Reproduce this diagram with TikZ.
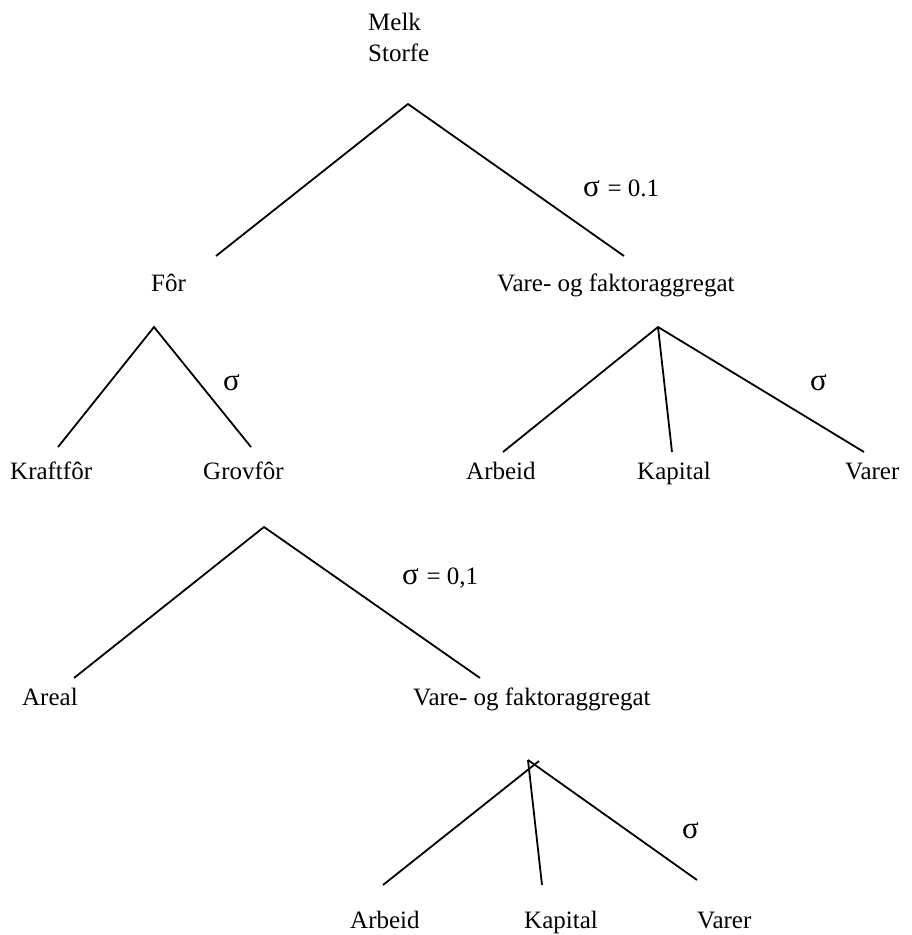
\documentclass[tikz,border=0pt]{standalone}
\usepackage{fontspec}
\setmainfont{Liberation Serif}
\begin{document}
\begin{tikzpicture}[x=1pt,y=-1pt,
  lbl/.style={anchor=base west, inner sep=0pt, font=\fontsize{25}{30}\selectfont},
  sig/.style={anchor=base west, inner sep=0pt, font=\fontsize{31}{34}\selectfont},
  branch/.style={line width=1.8pt, line cap=butt}]
\useasboundingbox (0,0) rectangle (912,935);

% top level: Melk / Storfe
\node[lbl] (melk) at (368,30) {Melk};
\node[lbl] (storfe) at (368,61) {Storfe};
\coordinate (t0) at (408,104);
\coordinate (t0l) at (216,256);
\coordinate (t0r) at (624,256);
\draw[branch] (t0l) -- (t0) -- (t0r);
\node[sig] (s0) at (583,196) {σ {\fontsize{25}{30}\selectfont = 0.1}};

\node[lbl] (for) at (151,291) {Fôr};
\node[lbl] (vfa1) at (497,291) {Vare- og faktoraggregat};

% feed branch
\coordinate (f0) at (154,327);
\coordinate (fl) at (58,447);
\coordinate (fr) at (251,447);
\draw[branch] (fl) -- (f0) -- (fr);
\node[sig] (s1) at (223,390) {σ};
\node[lbl] (kraft) at (10,479) {Kraftfôr};
\node[lbl] (grov) at (203,479) {Grovfôr};

% goods and factors branch
\coordinate (v0) at (658,327);
\coordinate (vl) at (503,452);
\coordinate (vm) at (672,452);
\coordinate (vr) at (864,452);
\draw[branch] (vl) -- (v0) -- (vr);
\draw[branch] (v0) -- (vm);
\node[sig] (s2) at (810,390) {σ};
\node[lbl] (arb1) at (466,479) {Arbeid};
\node[lbl] (kap1) at (637,479) {Kapital};
\node[lbl] (var1) at (845,479) {Varer};

% roughage branch
\coordinate (g0) at (264,527);
\coordinate (gl) at (74,678);
\coordinate (gr) at (480,678);
\draw[branch] (gl) -- (g0) -- (gr);
\node[sig] (s3) at (402,584) {σ {\fontsize{25}{30}\selectfont = 0,1}};
\node[lbl] (areal) at (22,705) {Areal};
\node[lbl] (vfa2) at (413,705) {Vare- og faktoraggregat};

% lower goods and factors branch
\coordinate (b0) at (528,760);
\coordinate (bl) at (383,885);
\coordinate (bx) at (539,761);
\coordinate (bm) at (542,885);
\coordinate (br) at (697,880);
\draw[branch] (bl) -- (bx);
\draw[branch] (b0) -- (bm);
\draw[branch] (b0) -- (br);
\node[sig] (s4) at (682,838) {σ};
\node[lbl] (arb2) at (350,928) {Arbeid};
\node[lbl] (kap2) at (524,928) {Kapital};
\node[lbl] (var2) at (697,928) {Varer};
\end{tikzpicture}
\end{document}
